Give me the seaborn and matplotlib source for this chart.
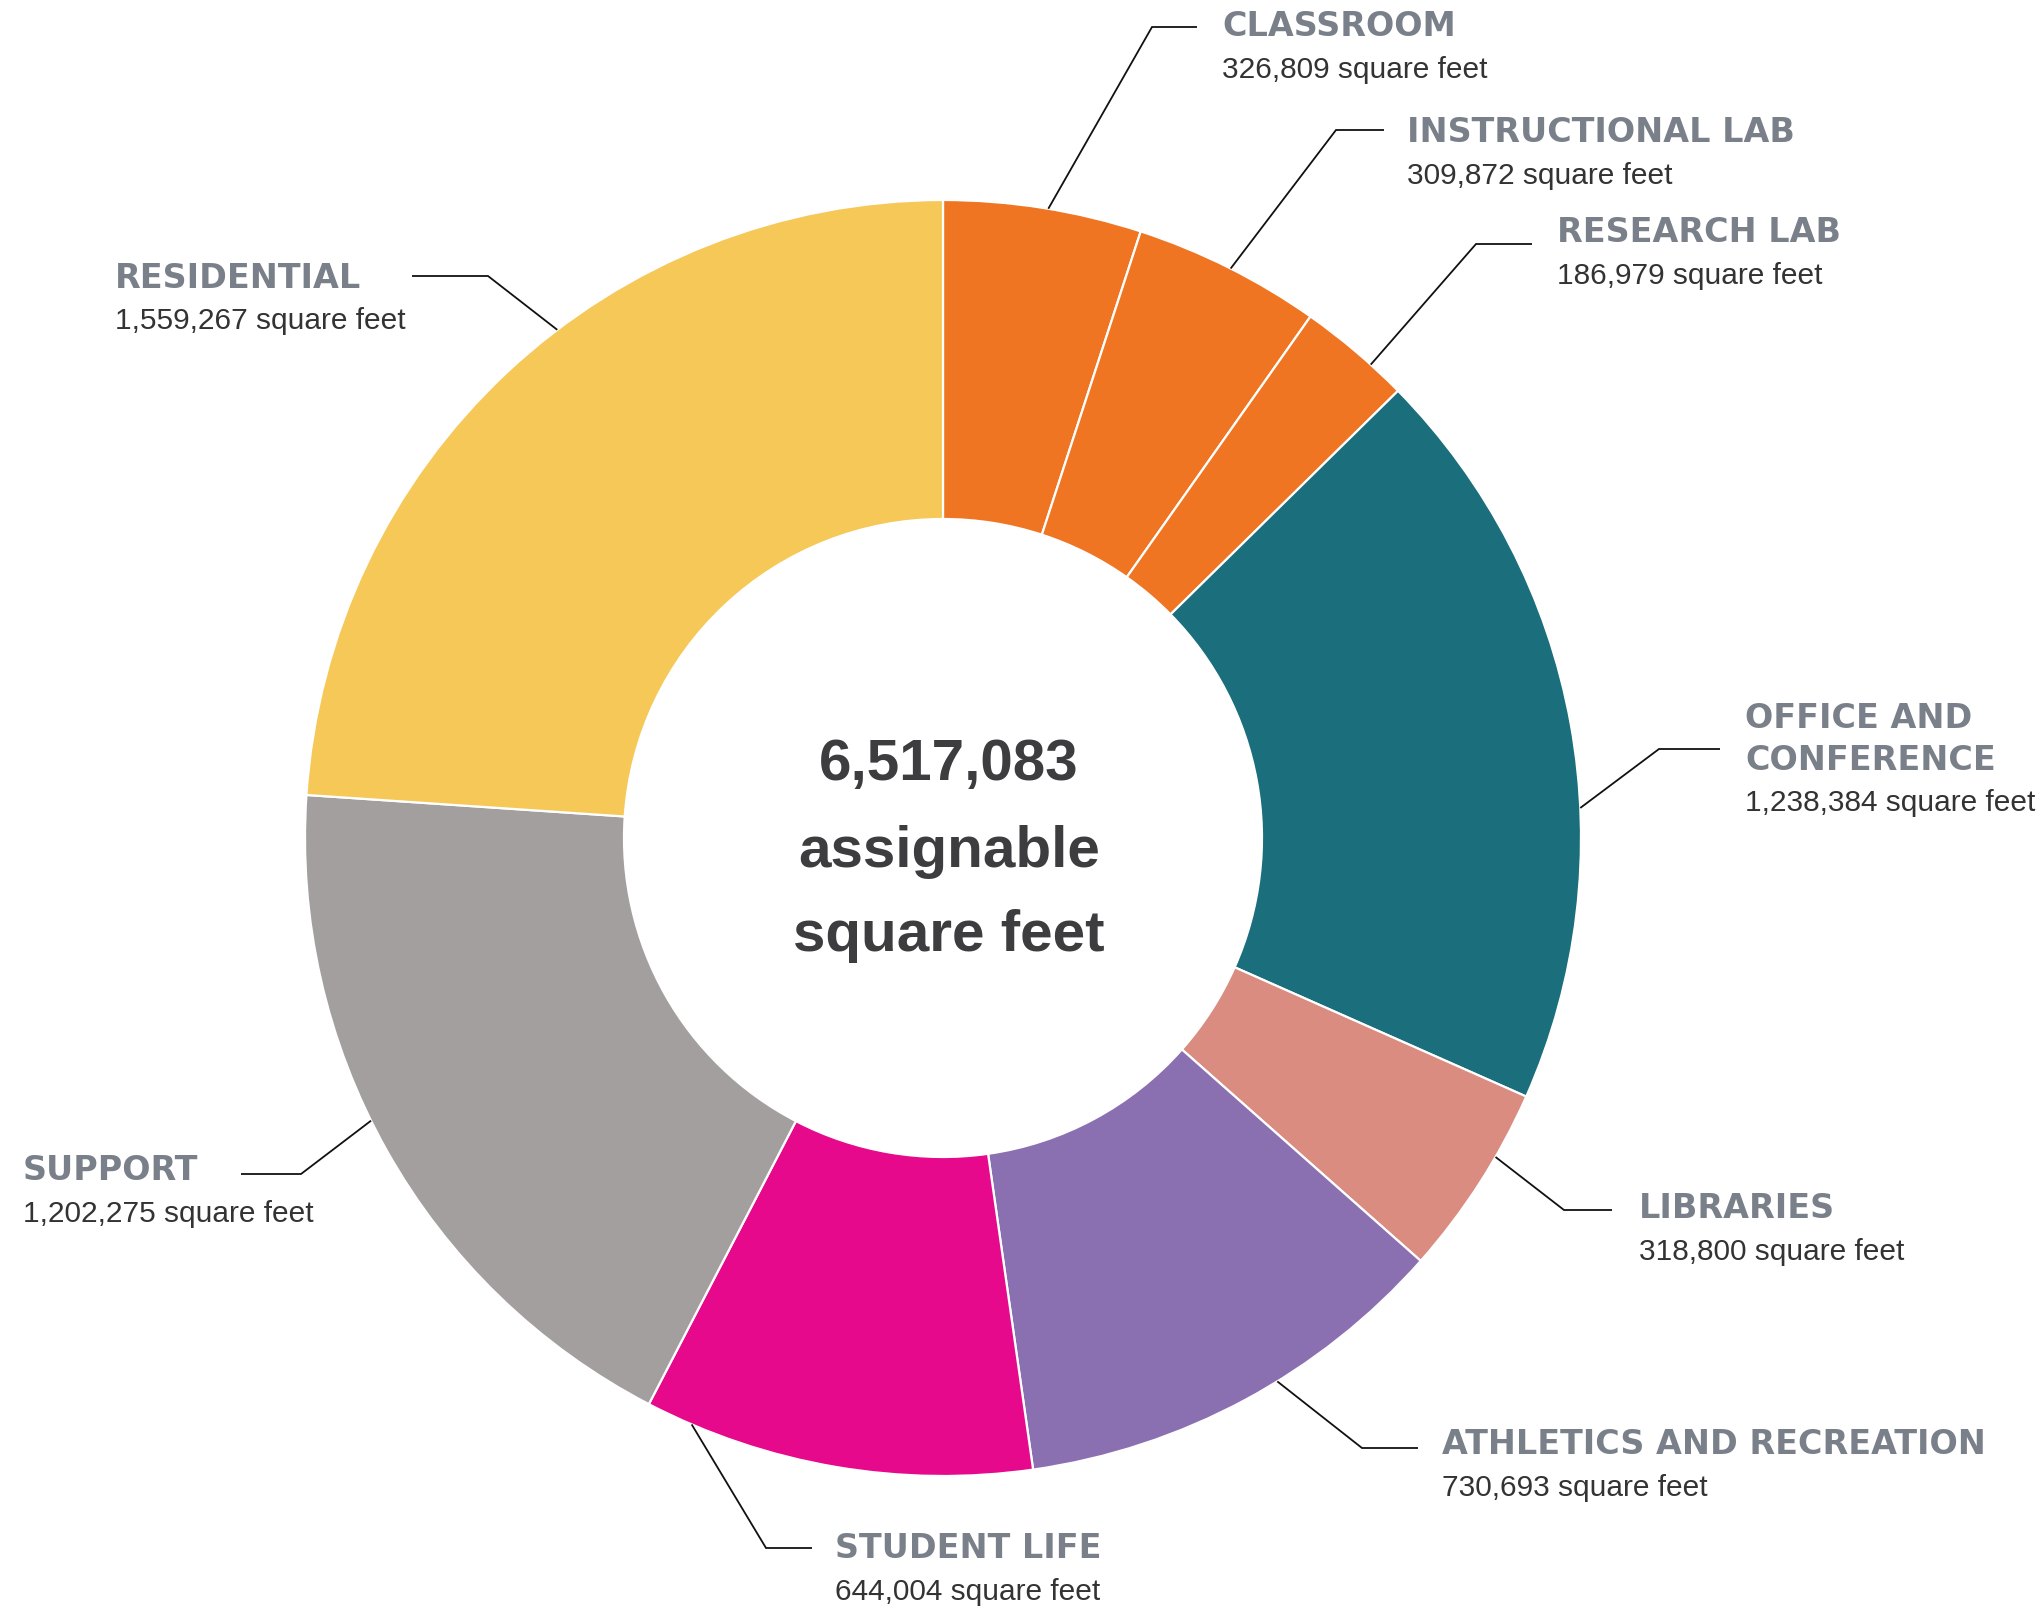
import numpy as np
import matplotlib
matplotlib.use("Agg")
import matplotlib.pyplot as plt
import seaborn as sns

# Assignable floor area by space type, clockwise from 12 o'clock
categories = ["CLASSROOM", "INSTRUCTIONAL LAB", "RESEARCH LAB", "OFFICE AND\nCONFERENCE",
              "LIBRARIES", "ATHLETICS AND RECREATION", "STUDENT LIFE", "SUPPORT", "RESIDENTIAL"]
square_feet = [326809, 309872, 186979, 1238384, 318800, 730693, 644004, 1202275, 1559267]
slice_colors = ["#F07522", "#F07522", "#F07522", "#1B6E7B", "#D98C7F",
                "#8A70B0", "#E6098B", "#A39F9E", "#F5C857"]

# Label placement in pixel space:
# (text x, first title line y, leader angle clockwise from top, elbow x, elbow y, leader end x)
label_layout = {
    "CLASSROOM": (1222, 27, 9.5, 1152, 27, 1197),
    "INSTRUCTIONAL LAB": (1407, 133, 26.8, 1336, 130, 1384),
    "RESEARCH LAB": (1557, 233, 42.1, 1476, 244, 1532),
    "OFFICE AND\nCONFERENCE": (1745, 718, 87.3, 1659, 749, 1720),
    "LIBRARIES": (1639, 1209, 120.0, 1564, 1210, 1612),
    "ATHLETICS AND RECREATION": (1442, 1445, 148.4, 1362, 1448, 1418),
    "STUDENT LIFE": (835, 1549, 203.2, 766, 1548, 812),
    "SUPPORT": (23, 1171, 243.7, 301, 1174, 241),
    "RESIDENTIAL": (115, 278, 322.8, 488, 276, 412),
}

W, H = 2043, 1612
CX, CY, R = 943, 838, 638

sns.set_theme(style="white")
palette = sns.color_palette(slice_colors)

fig = plt.figure(figsize=(W / 100, H / 100), dpi=100)
ax = fig.add_axes([0, 0, 1, 1])

# With the inverted y axis, counterclock=True runs visually clockwise and -90 is the top
ax.pie(square_feet, colors=palette, startangle=-90, counterclock=True,
       center=(CX, CY), radius=R, frame=True,
       wedgeprops=dict(width=R * 0.5, edgecolor="white", linewidth=1.6))
ax.set_xlim(0, W)
ax.set_ylim(H, 0)  # pixel-style coordinates, y grows downward
ax.set_aspect("equal")
ax.axis("off")

total = sum(square_feet)

title_color = "#7A8089"
value_color = "#333333"
line_step = 42

for name, value in zip(categories, square_feet):
    tx, ty, ang, ex, ey, endx = label_layout[name]
    phi = np.deg2rad(ang)
    sx, sy = CX + R * np.sin(phi), CY - R * np.cos(phi)
    ax.plot([sx, ex, endx], [sy, ey, ey], color="#111111", lw=1.3,
            solid_capstyle="butt", solid_joinstyle="miter")
    title_lines = name.split("\n")
    for i, line in enumerate(title_lines):
        ax.text(tx, ty + i * line_step, line, ha="left", va="center",
                fontsize=24, fontweight="bold", family="DejaVu Sans",
                color=title_color)
    vy = ty + (len(title_lines) - 1) * line_step + 43
    ax.text(tx, vy, f"{value:,} square feet", ha="left", va="center",
            fontsize=21.5, family="Liberation Sans", color=value_color)

# Center total
center_lines = [f"{total:,}", "assignable", "square feet"]
for txt, y in zip(center_lines, [765, 852, 936]):
    ax.text(949, y, txt, ha="center", va="center", fontsize=42,
            fontweight="bold", family="Liberation Sans", color="#3D3D3F")

fig.savefig("out.png", dpi=100, facecolor="white")
